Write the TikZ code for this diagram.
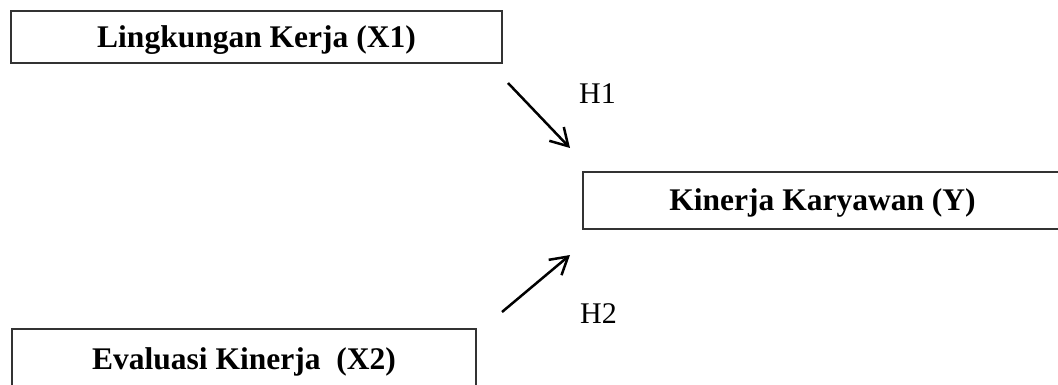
\documentclass[tikz,border=0pt]{standalone}
\usepackage{fontspec}
\setmainfont{Liberation Serif}
\usetikzlibrary{arrows.meta}
\begin{document}
\begin{tikzpicture}[x=1pt,y=-1pt,
  varbox/.style={draw=black!80, line width=1.5pt, inner sep=0pt,
    text height=28pt, text depth=7.75pt,
    font=\fontsize{31.5}{36}\selectfont\bfseries},
  hyp/.style={line width=2.5pt,
    -{Straight Barb[length=17pt,width=20pt,line width=2.5pt]}},
  hlabel/.style={anchor=base, inner sep=0pt, font=\fontsize{30}{36}\selectfont}]
\useasboundingbox (0,0) rectangle (1058,385);
\clip (0,0) rectangle (1058,385);
\node[varbox, minimum width=491pt, minimum height=52pt] (x1) at (256.5,37) {Lingkungan Kerja (X1)};
\node[varbox, minimum width=479pt, minimum height=57pt] (y) at (822.5,200.5) {Kinerja Karyawan (Y)};
\node[varbox, minimum width=464pt, minimum height=60pt] (x2) at (244,359) {Evaluasi Kinerja\ \ (X2)};
\coordinate (h1s) at (508,83);
\coordinate (h1e) at (570,148);
\coordinate (h2s) at (502,312);
\coordinate (h2e) at (570,255);
\draw[hyp] (h1s) -- (h1e);
\draw[hyp] (h2s) -- (h2e);
\node[hlabel] (h1) at (597.5,104) {H1};
\node[hlabel] (h2) at (598.5,323) {H2};
\end{tikzpicture}
\end{document}
